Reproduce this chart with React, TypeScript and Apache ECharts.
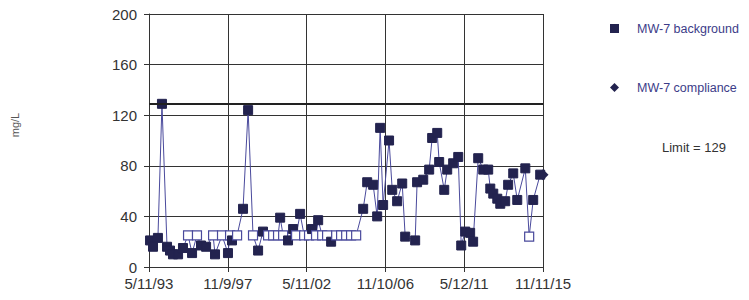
import React, { useEffect, useRef } from "react";
import * as echarts from "echarts";

// x values: years since 5/11/93
const sampleYears = [
  0.06, 0.23, 0.51, 0.74, 1.03, 1.2, 1.37, 1.66, 1.94, 2.23, 2.46, 2.74, 2.97, 3.26, 3.66, 3.77,
  4.17, 4.51, 4.63, 4.74, 5.03, 5.37, 5.66, 5.94, 6.23, 6.51, 6.8, 7.09, 7.37, 7.49, 7.66, 7.94,
  8.23, 8.4, 8.63, 8.86, 9.14, 9.31, 9.54, 9.66, 9.89, 10.17, 10.4, 10.69, 10.97, 11.26, 11.54,
  11.83, 12.23, 12.46, 12.8, 13.03, 13.2, 13.37, 13.71, 13.89, 14.17, 14.46, 14.63, 15.2, 15.31,
  15.66, 16.0, 16.17, 16.46, 16.57, 16.86, 17.03, 17.37, 17.66, 17.83, 18.06, 18.34, 18.51, 18.8,
  19.09, 19.37, 19.49, 19.66, 19.89, 20.06, 20.34, 20.51, 20.8, 21.03, 21.49, 21.71, 21.94, 22.34,
];
const sampleValues = [
  21, 16, 23, 129, 16, 13, 10, 10, 15, 25, 11, 25, 17, 16, 25, 10,
  25, 11, 25, 21, 25, 46, 124, 25, 13, 28, 25, 25, 25, 39, 25, 21,
  30, 25, 42, 25, 25, 30, 25, 37, 25, 25, 20, 25, 25, 25, 25,
  25, 46, 67, 65, 40, 110, 49, 100, 61, 52, 66, 24, 21, 67,
  69, 77, 102, 106, 83, 61, 77, 82, 87, 17, 28, 27, 20, 86,
  77, 77, 62, 58, 54, 50, 52, 65, 74, 53, 78, 24, 53, 73,
];
// 1 = non-detect (open square)
const nonDetect = [
  0, 0, 0, 0, 0, 0, 0, 0, 0, 1, 0, 1, 0, 0, 1, 0,
  1, 0, 1, 0, 1, 0, 0, 1, 0, 0, 1, 1, 1, 0, 1, 0,
  0, 1, 0, 1, 1, 0, 1, 0, 1, 1, 0, 1, 1, 1, 1,
  1, 0, 0, 0, 0, 0, 0, 0, 0, 0, 0, 0, 0, 0,
  0, 0, 0, 0, 0, 0, 0, 0, 0, 0, 0, 0, 0, 0,
  0, 0, 0, 0, 0, 0, 0, 0, 0, 0, 0, 1, 0, 0,
];
const complianceYears = [22.5];
const complianceValues = [73];
const limitValue = 129;
const xTickLabels = ["5/11/93", "11/9/97", "5/11/02", "11/10/06", "5/12/11", "11/11/15"];
const seriesNames = ["MW-7 background", "MW-7 compliance"];

const NAVY = "#23234f";
const LINE = "#4a4a9c";
const FONT = "Liberation Sans, Arial, sans-serif";

export default function App() {
  const ref = useRef<HTMLDivElement>(null);
  useEffect(() => {
    if (!ref.current) return;
    document.body.style.margin = "0";
    const chart = echarts.init(ref.current, undefined, { renderer: "svg" });
    const bgData = sampleYears.map((x, i) => {
      const nd = nonDetect[i] === 1;
      return {
        value: [x, sampleValues[i]],
        itemStyle: nd
          ? { color: "#ffffff", borderColor: LINE, borderWidth: 1.2 }
          : { color: NAVY, borderColor: NAVY, borderWidth: 1 },
      };
    });
    chart.setOption({
      animation: false,
      textStyle: { fontFamily: FONT },
      grid: { left: 149, right: 206, top: 14, bottom: 33 },
      legend: {
        orient: "vertical",
        left: 605,
        top: 17,
        itemGap: 46,
        itemWidth: 9,
        itemHeight: 9,
        textStyle: { color: "#3c3c88", fontSize: 12.5, fontFamily: FONT, padding: [0, 0, 0, 13] },
        data: [
          { name: seriesNames[0], icon: "rect" },
          { name: seriesNames[1], icon: "diamond" },
        ],
      },
      xAxis: {
        type: "value",
        min: 0,
        max: 22.5,
        interval: 4.5,
        axisLine: { lineStyle: { color: "#333", width: 1 } },
        axisTick: { show: true, length: 5, lineStyle: { color: "#333" } },
        splitLine: { show: true, lineStyle: { color: "#333", width: 1 } },
        axisLabel: {
          color: "#333",
          fontSize: 15,
          fontFamily: FONT,
          margin: 9,
          formatter: (v: number) => xTickLabels[Math.round(v / 4.5)] ?? "",
        },
      },
      yAxis: {
        type: "value",
        min: 0,
        max: 200,
        interval: 40,
        axisLine: { show: true, lineStyle: { color: "#333", width: 1 } },
        axisTick: { show: true, length: 5, lineStyle: { color: "#333" } },
        splitLine: { show: true, lineStyle: { color: "#333", width: 1 } },
        axisLabel: { color: "#333", fontSize: 15, fontFamily: FONT, margin: 12 },
      },
      graphic: [
        {
          type: "text",
          x: 15,
          y: 125,
          rotation: Math.PI / 2,
          style: {
            text: "mg/L",
            fill: "#555",
            font: `11px ${FONT}`,
            align: "center",
            verticalAlign: "middle",
          },
        },
        {
          type: "text",
          x: 662,
          y: 147,
          style: {
            text: `Limit = ${limitValue}`,
            fill: "#333",
            font: `13px ${FONT}`,
            align: "left",
            verticalAlign: "middle",
          },
        },
      ],
      series: [
        {
          name: seriesNames[0],
          type: "line",
          symbol: "rect",
          symbolSize: 9,
          showAllSymbol: true,
          itemStyle: { color: NAVY },
          lineStyle: { color: LINE, width: 1 },
          data: bgData,
          markLine: {
            silent: true,
            symbol: "none",
            label: { show: false },
            lineStyle: { color: "#222", width: 2, type: "solid" },
            data: [{ yAxis: limitValue }],
          },
          z: 3,
        },
        {
          name: seriesNames[1],
          type: "line",
          symbol: "diamond",
          symbolSize: 11,
          itemStyle: { color: NAVY },
          lineStyle: { color: LINE, width: 1 },
          data: complianceYears.map((x, i) => [x, complianceValues[i]]),
          z: 4,
        },
      ],
    });
    return () => chart.dispose();
  }, []);
  return <div ref={ref} style={{ width: 749, height: 300 }} />;
}
